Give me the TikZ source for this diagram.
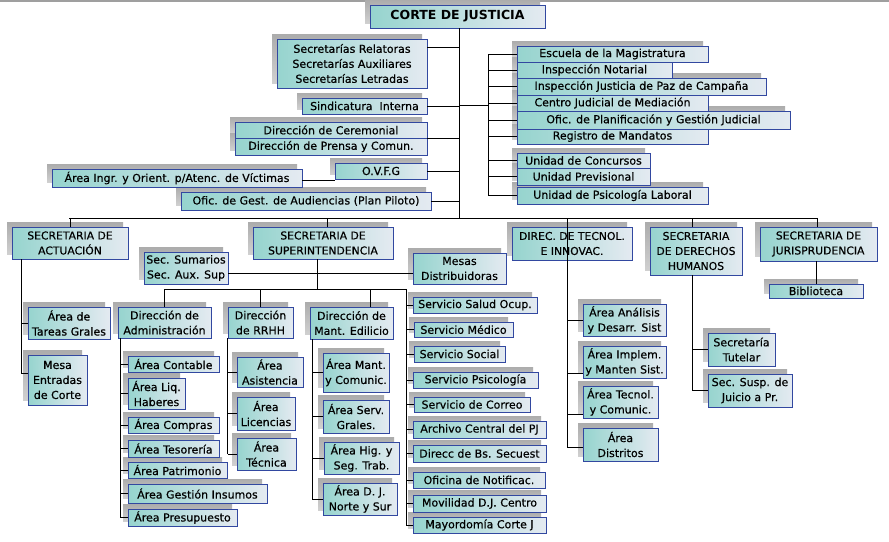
\documentclass[tikz,border=0pt]{standalone}
\usepackage{fontspec}
\setmainfont{DejaVu Sans}[FakeBold=0.5]
\newfontfamily\titlefont{DejaVu Sans Bold}
\pgfdeclarelayer{bglayer}
\pgfdeclarelayer{shadowlayer}
\pgfsetlayers{bglayer,shadowlayer,main}
\definecolor{boxteal}{RGB}{150,212,206}
\definecolor{boxlight}{RGB}{228,234,241}
\definecolor{boxborder}{RGB}{50,72,160}
\definecolor{shadowtop}{RGB}{172,172,172}
\definecolor{shadowbot}{RGB}{208,208,208}
\tikzset{
  box/.style={draw=boxborder, line width=0.9pt, left color=boxteal, right color=boxlight,
    inner sep=0pt, align=center, font=\fontsize{11}{15}\selectfont, text=black},
  headbox/.style={font=\fontsize{10.8}{15}\selectfont},
  titlebox/.style={font=\titlefont\fontsize{12.5}{15}\selectfont},
  shadowbox/.style={top color=shadowtop, bottom color=shadowbot, draw=none},
  link/.style={draw=black, line width=0.9pt},
}
% #1 options, #2 name, #3 left, #4 top, #5 right, #6 bottom, #7 text
\newcommand\bx[7][]{%
  \begin{pgfonlayer}{shadowlayer}
    \fill[shadowbox] ({#3-5},{#4-5}) rectangle ({#5-5},{#6-5});
  \end{pgfonlayer}
  \pgfmathsetmacro\bxcx{(#3+#5)/2}\pgfmathsetmacro\bxcy{(#4+#6)/2}%
  \pgfmathsetmacro\bxw{#5-#3}\pgfmathsetmacro\bxh{#6-#4}%
  \node[box, minimum width=\bxw pt, minimum height=\bxh pt, #1] (#2) at (\bxcx,\bxcy) {#7};
}
\begin{document}
\begin{tikzpicture}[x=1pt, y=-1pt]
\begin{pgfonlayer}{bglayer}
  \fill[white] (0,0) rectangle (889,541);
  \fill[gray!75] (0,0) rectangle (889,2);
\end{pgfonlayer}
\useasboundingbox (0,0) rectangle (889,541);

% top
\bx[titlebox]{corte}{370}{5}{545}{28}{CORTE DE JUSTICIA}
\bx{secs}{277}{39}{427}{88}{Secretarías Relatoras\\Secretarías Auxiliares\\Secretarías Letradas}
\bx{sindic}{302}{98}{427}{114}{Sindicatura\ \ Interna}
\bx{cerem}{235}{122}{427}{138}{Dirección de Ceremonial}
\bx{prensa}{235}{138}{427}{155}{Dirección de Prensa y Comun.}
\bx{ovfg}{335}{163}{427}{179}{O.V.F.G}
\bx{victimas}{52}{169}{302}{187}{Área Ingr. y Orient. p/Atenc. de Víctimas}
\bx{audien}{181}{192}{431}{210}{Ofic. de Gest. de Audiencias (Plan Piloto)}

\bx{escuela}{517}{46}{708}{62}{Escuela de la Magistratura}
\bx{notarial}{517}{62}{672}{78}{Inspección Notarial}
\bx{paz}{517}{78}{766}{95}{Inspección Justicia de Paz de Campaña}
\bx{mediacion}{517}{95}{708}{111}{Centro Judicial de Mediación}
\bx{planif}{517}{111}{790}{129}{Ofic. de Planificación y Gestión Judicial}
\bx{registro}{517}{129}{708}{144}{Registro de Mandatos}
\bx{concursos}{517}{153}{650}{168}{Unidad de Concursos}
\bx{previs}{517}{168}{650}{185}{Unidad Previsional}
\bx{psicolab}{517}{187}{708}{204}{Unidad de Psicología Laboral}

% level 2
\bx[headbox]{actu}{12}{227}{128}{259}{SECRETARIA DE\\ACTUACIÓN}
\bx[headbox]{super}{253}{227}{393}{259}{SECRETARIA DE\\SUPERINTENDENCIA}
\bx[headbox]{tecnol}{512}{227}{632}{260}{DIREC. DE TECNOL.\\E INNOVAC.}
\bx[headbox]{dh}{650}{227}{742}{275}{SECRETARIA\\DE DERECHOS\\HUMANOS}
\bx[headbox]{juris}{760}{227}{877}{261}{SECRETARIA DE\\JURISPRUDENCIA}

% actuacion
\bx{tareas}{28}{307}{110}{339}{Área de\\Tareas Grales}
\bx{mesa}{28}{355}{87}{405}{Mesa\\Entradas\\de Corte}

% superintendencia
\bx{sumarios}{144}{252}{228}{284}{Sec. Sumarios\\Sec. Aux. Sup}
\bx{mesas}{413}{253}{506}{284}{Mesas\\Distribuidoras}
\bx{admin}{118}{307}{211}{338}{Dirección de\\Administración}
\bx{rrhh}{228}{307}{293}{338}{Dirección\\de RRHH}
\bx{mant}{310}{307}{393}{339}{Dirección de\\Mant. Edilicio}

\bx{contable}{128}{356}{219}{372}{Área Contable}
\bx{liq}{128}{378}{185}{409}{Área Liq.\\Haberes}
\bx{compras}{128}{417}{219}{433}{Área Compras}
\bx{tesoreria}{128}{440}{219}{457}{Área Tesorería}
\bx{patrimonio}{128}{462}{227}{478}{Área Patrimonio}
\bx{insumos}{128}{484}{267}{503}{Área Gestión Insumos}
\bx{presupuesto}{128}{509}{237}{526}{Área Presupuesto}

\bx{asistencia}{237}{357}{303}{387}{Área\\Asistencia}
\bx{licencias}{237}{397}{295}{430}{Área\\Licencias}
\bx{tecnica}{237}{438}{296}{470}{Área\\Técnica}

\bx{mantcom}{323}{353}{389}{392}{Área Mant.\\y Comunic.}
\bx{serv}{323}{400}{389}{433}{Área Serv.\\Grales.}
\bx{hig}{324}{442}{399}{474}{Área Hig. y\\Seg. Trab.}
\bx{dj}{323}{483}{397}{515}{Área D. J.\\Norte y Sur}

\bx{salud}{413}{297}{537}{313}{Servicio Salud Ocup.}
\bx{medico}{414}{322}{513}{337}{Servicio Médico}
\bx{social}{414}{346}{505}{362}{Servicio Social}
\bx{psicol}{413}{372}{538}{388}{Servicio Psicología}
\bx{correo}{414}{397}{530}{412}{Servicio de Correo}
\bx{archivo}{413}{421}{546}{438}{Archivo Central del PJ}
\bx{secuest}{413}{445}{546}{462}{Direcc de Bs. Secuest}
\bx{notif}{413}{472}{545}{488}{Oficina de Notificac.}
\bx{movil}{413}{495}{546}{512}{Movilidad D.J. Centro}
\bx{mayor}{413}{517}{546}{533}{Mayordomía Corte J}

% tecnologia
\bx{analisis}{583}{304}{666}{336}{Área Análisis\\y Desarr. Sist}
\bx{implem}{583}{346}{666}{378}{Área Implem.\\y Manten Sist.}
\bx{atecnol}{583}{386}{658}{418}{Área Tecnol.\\y Comunic.}
\bx{distritos}{583}{428}{658}{461}{Área\\Distritos}

% derechos humanos
\bx{tutelar}{708}{333}{775}{366}{Secretaría\\Tutelar}
\bx{susp}{708}{374}{792}{407}{Sec. Susp. de\\Juicio a Pr.}

% jurisprudencia
\bx{biblio}{769}{284}{863}{298}{Biblioteca}

% ---------- connectors ----------
\coordinate (trunkbot) at (459,218);
\coordinate (j1) at (459,47);
\coordinate (rb) at (488,105);
\coordinate (busL) at (69,218);
\coordinate (busR) at (817,218);
\coordinate (av) at (21,373);
\coordinate (smline) at (300,273);
\coordinate (sb) at (317,289);
\coordinate (sr) at (406,289);
\coordinate (mx) at (370,289);
\coordinate (adv) at (120,338);
\coordinate (mv) at (312,339);
\coordinate (tv) at (567,260);
\coordinate (dv) at (692,275);

\draw[link] (corte.south -| trunkbot) -- (trunkbot);
\draw[link] (secs.east |- j1) -- (j1);
\draw[link] (sindic.east) -- (sindic.east -| trunkbot);
\draw[link] (cerem.south east) -- (cerem.south east -| trunkbot);
\draw[link] (ovfg.east) -- (ovfg.east -| trunkbot);
\draw[link] ([yshift=-2pt]victimas.east) -- ([yshift=-2pt]victimas.east -| ovfg.west);
\draw[link] (audien.east) -- (audien.east -| trunkbot);

\draw[link] (rb -| trunkbot) -- (rb);
\draw[link] (escuela.west -| rb) -- (psicolab.west -| rb);
\foreach \n in {escuela,notarial,paz,mediacion,planif,registro,concursos,previs,psicolab}
  \draw[link] (\n.west -| rb) -- (\n.west);

\draw[link] (busL) -- (busR);
\draw[link] (actu.north |- busL) -- (actu.north);
\draw[link] ([xshift=4pt]super.north |- busL) -- ([xshift=4pt]super.north);
\draw[link] (tv |- busL) -- (tv);
\draw[link] (dv |- busL) -- (dv |- dh.north);
\draw[link] (busR) -- (busR |- juris.north);

% actuacion
\draw[link] (actu.south -| av) -- (av);
\draw[link] (tareas.west -| av) -- (tareas.west);
\draw[link] (av) -- (av -| mesa.west);

% superintendencia
\draw[link] (sumarios.east |- smline) -- (mesas.west |- smline);
\draw[link] (super.south -| sb) -- (sb);
\draw[link] (admin.north |- sb) -- (sr);
\draw[link] (admin.north |- sb) -- (admin.north);
\draw[link] (rrhh.north |- sb) -- (rrhh.north);
\draw[link] (mx) -- (mx |- mant.north);
\draw[link] (sr) -- (sr |- mayor.west);
\foreach \n in {salud,medico,social,psicol,correo,archivo,secuest,notif,movil,mayor}
  \draw[link] (\n.west -| sr) -- (\n.west);

\draw[link] (adv) -- (adv |- presupuesto.west);
\foreach \n in {contable,liq,compras,tesoreria,patrimonio,insumos,presupuesto}
  \draw[link] (\n.west -| adv) -- (\n.west);

\draw[link] (rrhh.south west) -- (rrhh.south west |- tecnica.west);
\foreach \n in {asistencia,licencias,tecnica}
  \draw[link] (\n.west -| rrhh.south west) -- (\n.west);

\draw[link] (mv) -- (mv |- dj.west);
\foreach \n in {mantcom,serv,hig,dj}
  \draw[link] (\n.west -| mv) -- (\n.west);

% tecnologia
\draw[link] (tv) -- ([yshift=-3pt]tv |- distritos.west);
\draw[link] (analisis.west -| tv) -- (analisis.west);
\draw[link] ([yshift=-11pt]implem.west -| tv) -- ([yshift=-11pt]implem.west);
\draw[link] ([yshift=-12pt]atecnol.west -| tv) -- ([yshift=-12pt]atecnol.west);
\draw[link] ([yshift=-3pt]distritos.west -| tv) -- ([yshift=-3pt]distritos.west);

% derechos humanos
\draw[link] (dh.south -| dv) -- (dv |- susp.west);
\draw[link] (tutelar.west -| dv) -- (tutelar.west);
\draw[link] (susp.west -| dv) -- (susp.west);

% jurisprudencia
\draw[link] (biblio.north) -- (biblio.north |- juris.south);
\end{tikzpicture}
\end{document}
